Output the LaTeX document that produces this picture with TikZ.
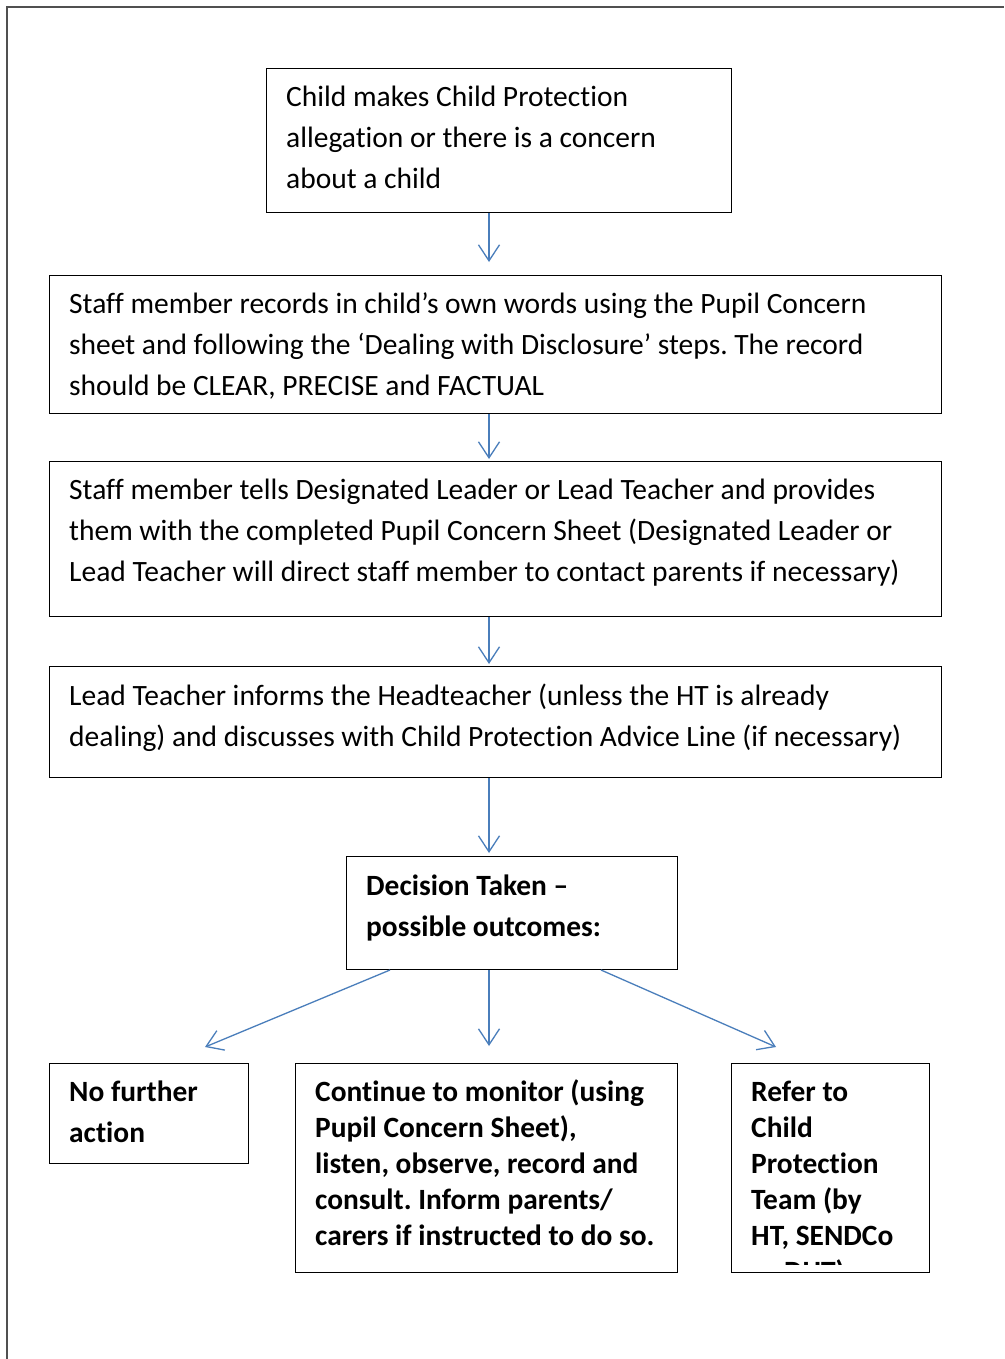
\documentclass[tikz,border=0pt]{standalone}
\usepackage{fontspec}
\setmainfont{Carlito}[Ligatures={NoCommon}]
\usetikzlibrary{arrows.meta,calc}
\definecolor{arrowblue}{RGB}{74,126,187}
\definecolor{framegray}{RGB}{80,80,80}
\frenchspacing
\newcommand{\topstrut}{\rule{0pt}{25pt}}
\begin{document}
\begin{tikzpicture}[x=1pt,y=-1pt,
  box/.style={draw=black,line width=1pt,inner sep=0pt,anchor=north west},
  txt/.style={inner sep=0pt,anchor=north west,align=left,font=\fontsize{29.5}{41}\selectfont},
  btxt/.style={txt,font=\fontsize{29.4}{41.5}\selectfont\bfseries},
  ctxt/.style={txt,font=\fontsize{29.4}{36}\selectfont\bfseries},
  arr/.style={draw=arrowblue,line width=1.3pt,-{Straight Barb[length=16pt,width=21pt,line width=1.3pt]}}
]
\useasboundingbox (0,0) rectangle (1004,1359);
\fill[white] (0,0) rectangle (1004,1359);
% frame
\coordinate (fa) at (7,1359);
\coordinate (fb) at (7,7);
\coordinate (fc) at (1004,7);
\draw[framegray,line width=1.5pt] (fa) -- (fb) -- (fc);

% boxes
\node[box,minimum width=465pt,minimum height=144pt] (b1) at (266,68) {};
\node[box,minimum width=892pt,minimum height=138pt] (b2) at (49,275) {};
\node[box,minimum width=892pt,minimum height=155pt] (b3) at (49,461) {};
\node[box,minimum width=892pt,minimum height=111pt] (b4) at (49,666) {};
\node[box,minimum width=331pt,minimum height=113pt] (b5) at (346,856) {};
\node[box,minimum width=199pt,minimum height=100pt] (b6) at (49,1063) {};
\node[box,minimum width=382pt,minimum height=209pt] (b7) at (295,1063) {};
\node[box,minimum width=198pt,minimum height=209pt] (b8) at (731,1063) {};

% texts
\node[txt] (t1) at ($(b1.north west)+(20,13)$)
  {\topstrut Child makes Child Protection\\allegation or there is a concern\\about a child};
\node[txt] (t2) at ($(b2.north west)+(20,13)$)
  {\topstrut Staff member records in child’s own words using the Pupil Concern\\sheet and following the ‘Dealing with Disclosure’ steps. The record\\should be CLEAR, PRECISE and FACTUAL};
\node[txt] (t3) at ($(b3.north west)+(20,13)$)
  {\topstrut Staff member tells Designated Leader or Lead Teacher and provides\\them with the completed Pupil Concern Sheet (Designated Leader or\\Lead Teacher will direct staff member to contact parents if necessary)};
\node[txt] (t4) at ($(b4.north west)+(20,14)$)
  {\topstrut Lead Teacher informs the Headteacher (unless the HT is already\\dealing) and discusses with Child Protection Advice Line (if necessary)};
\node[btxt] (t5) at ($(b5.north west)+(20,14)$)
  {\topstrut Decision Taken –\\possible outcomes:};
\node[btxt] (t6) at ($(b6.north west)+(20,13)$)
  {\topstrut No further\\action};
\node[ctxt] (t7) at ($(b7.north west)+(20,13)$)
  {\topstrut Continue to monitor (using\\Pupil Concern Sheet),\\listen, observe, record and\\consult. Inform parents/\\carers if instructed to do so.};
\begin{scope}
  \clip (b8.north west) rectangle ($(b8.south east)+(0,-9)$);
  \node[ctxt] (t8) at ($(b8.north west)+(20,13)$)
    {\topstrut Refer to\\Child\\Protection\\Team (by\\HT, SENDCo\\or DHT)};
\end{scope}

% arrows
\coordinate (ax) at (489,0);
\draw[arr,shorten >=13pt] (b1.south -| ax) -- (b2.north -| ax);
\draw[arr,shorten >=2pt] (b2.south -| ax) -- (b3.north -| ax);
\draw[arr,shorten >=2pt] (b3.south -| ax) -- (b4.north -| ax);
\draw[arr,shorten >=3pt] (b4.south -| ax) -- (b5.north -| ax);
\coordinate (e1) at (205,1047);
\coordinate (e3) at (776,1047);
\draw[arr] ($(b5.south west)+(44,0)$) -- (e1);
\draw[arr,shorten >=17pt] (b5.south -| ax) -- (b7.north -| ax);
\draw[arr] ($(b5.south west)+(255,0)$) -- (e3);
\end{tikzpicture}
\end{document}
